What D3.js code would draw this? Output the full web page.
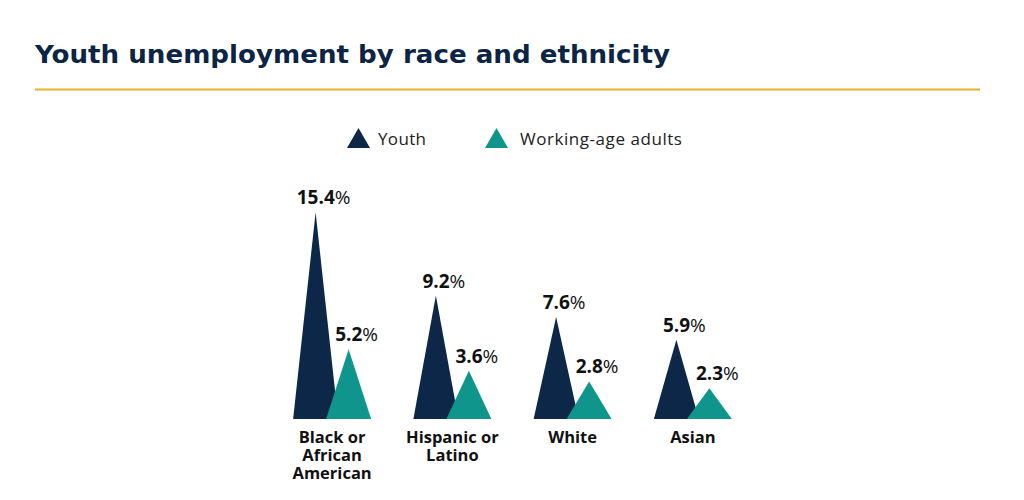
<!DOCTYPE html>
<html><head><meta charset="utf-8">
<script src="https://cdn.jsdelivr.net/npm/d3@7"></script>
<style>
html,body{margin:0;padding:0;background:#fff;}
svg{display:block;}
text{font-family:"Open Sans","DejaVu Sans",sans-serif;}
</style></head>
<body>
<svg id="chart" width="1024" height="500"></svg>
<script>
const title = "Youth unemployment by race and ethnicity";
const categories = ["Black or African American", "Hispanic or Latino", "White", "Asian"];
const categoryLines = [["Black or", "African", "American"], ["Hispanic or", "Latino"], ["White"], ["Asian"]];
const series = ["Youth", "Working-age adults"];
const youth = [15.4, 9.2, 7.6, 5.9];
const adults = [5.2, 3.6, 2.8, 2.3];
const colors = ["#0c2747", "#0f958c"];

const svg = d3.select("#chart");
const navy = "#0c2545";

function fitWidth(sel, target) {
  const n = sel.text().length;
  const w = sel.node().getComputedTextLength();
  if (n > 1) sel.attr("letter-spacing", ((target - w) / (n - 1)).toFixed(2));
}

svg.append("text").attr("x", 35).attr("y", 63)
  .attr("font-size", 24).attr("font-weight", 700).attr("fill", navy)
  .style("font-family", "'DejaVu Sans', sans-serif")
  .attr("textLength", 635).attr("lengthAdjust", "spacingAndGlyphs")
  .text(title);
svg.append("line").attr("x1", 35).attr("x2", 980).attr("y1", 89.5).attr("y2", 89.5)
  .attr("stroke", "#e6b324").attr("stroke-width", 2);

// legend
const legendX = [347, 485];
const legTextX = [378, 520];
const legW = [48, 162];
series.forEach((s, i) => {
  const g = svg.append("g");
  const cx = legendX[i] + 11.5;
  g.append("path").attr("d", `M${legendX[i]},148 L${cx},128 L${legendX[i]+23},148 Z`).attr("fill", colors[i]);
  const t = g.append("text").attr("x", legTextX[i]).attr("y", 144.5).attr("font-size", 17)
    .attr("fill", "#222").text(s);
  fitWidth(t, legW[i]);
});

const x = d3.scaleBand().domain(categories).range([272, 753]);
const xs = d3.scalePoint().domain(series).range([-16.5, 16.5]);
const y = d3.scaleLinear().domain([0, 16]).range([419, 419 - 16 * 13.42]);
const halfW = 22.5;

const data = categories.map((c, i) => ({cat: c, vals: [youth[i], adults[i]]}));

data.forEach((d, ci) => {
  const cx = x(d.cat) + x.bandwidth() / 2;
  series.forEach((s, si) => {
    const ax = cx + xs(s);
    const v = d.vals[si];
    svg.append("path")
      .attr("d", `M${ax - halfW},${y(0)} L${ax},${y(v)} L${ax + halfW},${y(0)} Z`)
      .attr("fill", colors[si]);
  });
  series.forEach((s, si) => {
    const ax = cx + xs(s);
    const v = d.vals[si];
    const t = svg.append("text").attr("x", ax + 8).attr("y", y(v) - 8)
      .attr("text-anchor", "middle").attr("font-size", 19).attr("fill", "#111");
    t.append("tspan").attr("font-weight", 700).text(v.toFixed(1));
    t.append("tspan").attr("font-weight", 400).text("%");
  });
  categoryLines[ci].forEach((ln, li) => {
    svg.append("text").attr("text-anchor", "middle")
      .attr("font-size", 16.5).attr("font-weight", 700).attr("fill", "#111")
      .attr("x", cx).attr("y", 443 + li * 18).text(ln);
  });
});
</script>
</body></html>
